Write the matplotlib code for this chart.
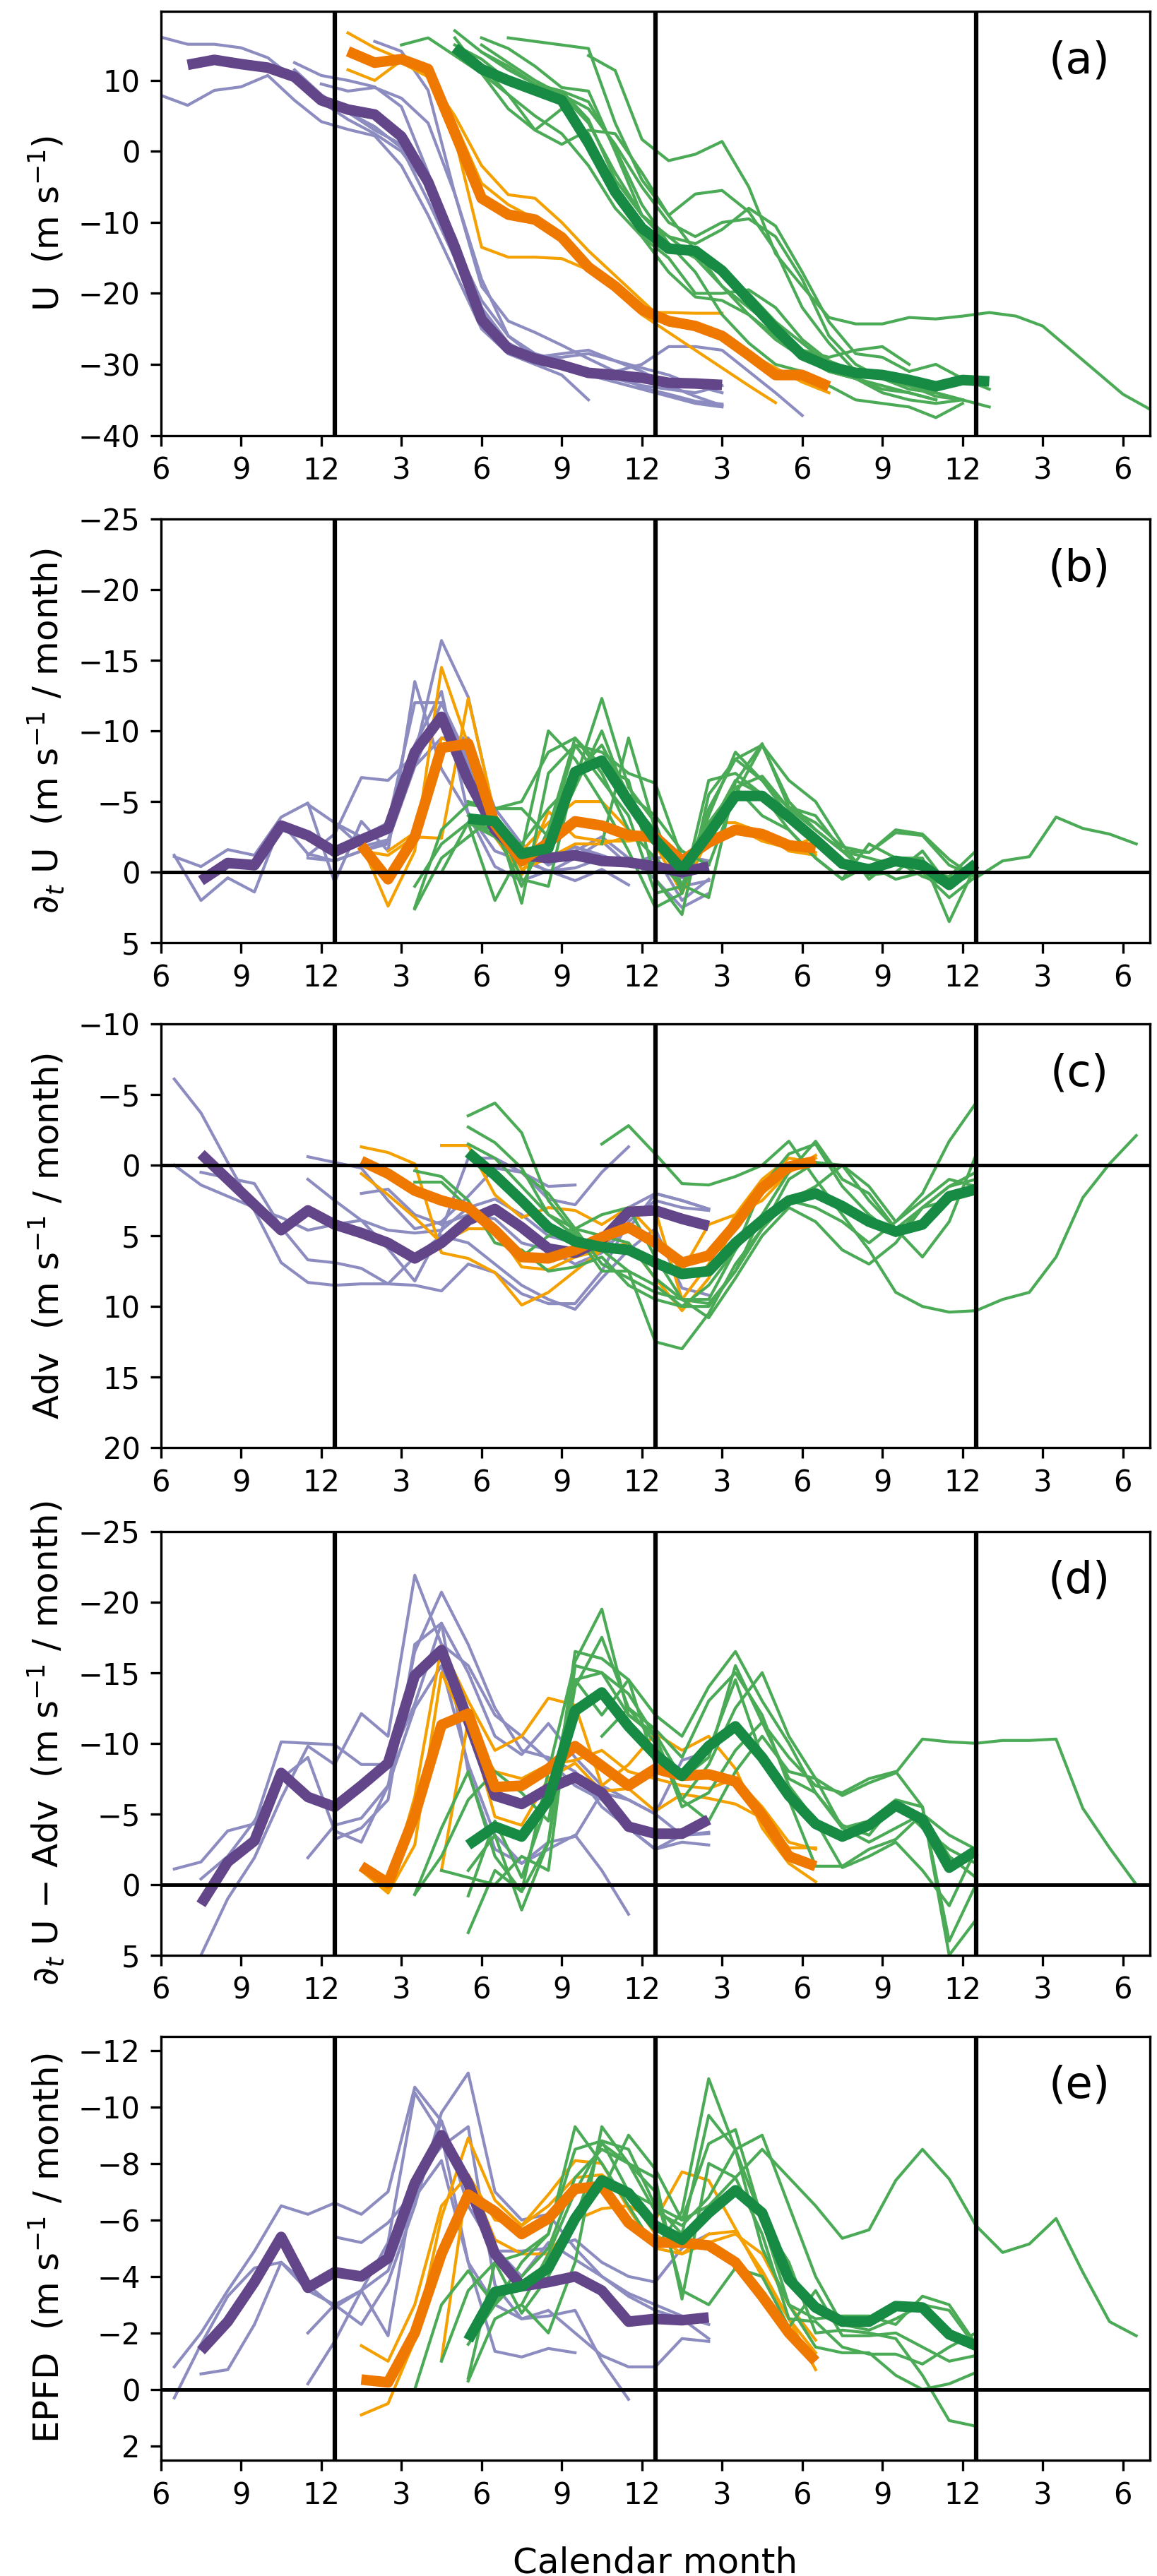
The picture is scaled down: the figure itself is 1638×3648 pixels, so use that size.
import numpy as np
import matplotlib
matplotlib.use("Agg")
import matplotlib.pyplot as plt

# month axis: 6 = June of first year, 18 = June of second year, ...
tick_pos = [6, 9, 12, 15, 18, 21, 24, 27, 30, 33, 36, 39, 42]
tick_lab = ["6", "9", "12", "3", "6", "9", "12", "3", "6", "9", "12", "3", "6"]
year_bounds = [12.5, 24.5, 36.5]

# ---------------- panel (a): U, monthly values ----------------
a_purple_start = 7
a_purple = [12.2, 12.9, 12.3, 11.8, 10.5, 7.2, 5.9, 5.2, 2.1, -4.3, -13.5, -23.7, -27.8,
            -29.2, -30.1, -31.2, -31.5, -31.9, -32.6, -32.7, -32.9]
a_orange_start = 13
a_orange = [14.1, 12.5, 13.0, 11.6, 2.6, -6.6, -8.9, -9.6, -12.1, -16.3, -19.0, -22.3,
            -23.9, -24.6, -26.0, -28.7, -31.5, -31.5, -33.1]
a_green_start = 17
a_green = [14.6, 11.6, 10.0, 8.6, 7.2, 1.2, -5.7, -10.8, -13.7, -14.0, -16.8, -20.9,
           -25.0, -28.7, -30.3, -31.2, -31.5, -32.2, -33.1, -32.2, -32.4]

a_purple_members = [
    (6, [16.1, 15.1, 15.1, 14.6, 13.2, 10.2, 7.5, 5.5, 3.5, 0.5, -7, -15, -24, -28.5, -30, -31.5, -35]),
    (6, [7.9, 6.5, 8.6, 9.1, 10.7, 7.2, 4.2, 3.1, 2.2, -2, -9, -17, -25, -28.5, -29.5, -30, -31.5,
         -32.5, -33.5, -34.5, -35.5, -36]),
    (11, [12.5, 10.7, 10, 9.1, 6.3, -3, -14, -22, -27, -29, -28.5, -28, -29.5, -30.5, -31.5, -33, -34]),
    (14, [15.5, 14.1, 8.6, -6, -19, -23.9, -25.5, -27.3, -29.2, -31, -33.3, -34.2, -35.2, -35.6]),
    (11, [11.5, 8, 5.5, 3, 1, -4, -13, -21, -26, -28.5, -29.5, -31, -32, -33, -33.5, -34, -33]),
    (12, [9.5, 8.5, 9, 7.5, 4, -6, -18, -26, -29, -30.5, -31.5, -31, -30, -27.5, -27.5, -28, -31, -34, -37.2]),
    (11, [10, 7, 4.5, 2.5, 0, -5, -12, -22, -28.5, -29, -29, -28.5, -29.5, -31, -33, -34.5, -35.8]),
]
a_orange_members = [
    (13, [16.7, 14.6, 13, 11.5, 4, -4.5, -7.5, -9.5, -12.5, -16, -19.5, -23, -25.5, -28, -30.5, -33, -35.4]),
    (13, [11.5, 10, 12.8, 11, 2, -13.5, -14.9, -14.9, -15.1, -16.7, -19, -22.7, -22.7, -22.8, -22.8]),
    (15, [12.5, 10.5, 5, -2, -6.1, -6.6, -10, -14, -17.5, -21, -24.5, -25, -26.5, -28.5, -30.5, -32.5, -34]),
]
a_green_members = [
    (15, [15, 16, 13.5, 11, 8, 3, 1, 3, 2.5, -3, -9, -14, -19, -23, -26, -29, -31, -32, -33.5, -34, -35]),
    (17, [17, 14, 11.5, 9.5, 8, 4, -3, -9, -13, -15, -17, -20, -24, -27, -30, -32, -34, -35, -35.5, -35, -36]),
    (17, [16, 11, 6, 3, 6, 2.5, -5, -12, -17, -20.5, -21, -23, -26.5, -29, -31, -32, -33, -34, -35]),
    (18, [16, 14.5, 12, 9, 8.5, 0, -9, -12, -13, -11, -8, -10.5, -17, -24, -28.5, -29, -31, -30, -32, -33.5]),
    (19, [16, 15.5, 15, 14.5, 4, -4, -9, -6, -5.5, -8.5, -14, -22, -27, -31, -32, -33, -34.5, -35]),
    (22, [13.5, 11.4, 1.7, -1.3, -0.4, 1.4, -5, -14.4, -19, -23.4, -24.3, -24.3, -23.4, -23.6, -23.2,
          -22.7, -23.2, -24.6, -27.8, -31, -34.2, -36.3]),
    (18, [12, 8, 5, 2.5, -2, -8, -12, -15, -20, -20, -19.5, -22, -26.5, -29.5, -31, -32, -33.5, -34, -35]),
    (18, [15, 12.5, 10, 8, 6, 1, -5, -10, -12, -10, -9.5, -12, -18, -26, -30, -32, -33, -34, -35]),
    (18, [14, 12, 9.5, 8.5, 7, 0.5, -7.5, -13, -17, -23, -27, -30, -31, -33, -35, -35.5, -36, -37.5, -35.5]),
    (17, [15, 13, 10, 9, 8.5, 4.5, -4, -9, -12, -15, -19, -22, -25, -28, -29, -28, -27.5, -30]),
]

# ---------------- panel (b): dU/dt, mid-month values ----------------
b_purple_start = 7.5
b_purple = [0.6, -0.65, -0.5, -3.3, -2.6, -1.45, -2.3, -3.1, -8.5, -11.0, -6.5, -3.0, -1.2,
            -1.0, -1.2, -0.8, -0.7, -0.4, 0.0, -0.4]
b_orange_start = 13.5
b_orange = [-1.9, 0.5, -2.5, -8.8, -9.1, -3.4, -0.8, -2.1, -3.6, -3.3, -2.6, -2.5, -0.8,
            -2.1, -3.0, -2.7, -1.9, -1.7]
b_green_start = 17.5
b_green = [-3.8, -3.6, -1.3, -1.7, -7.1, -7.9, -5.0, -2.3, -0.2, -2.7, -5.4, -5.4, -3.9,
           -2.3, -0.6, -0.2, -0.8, -0.5, 0.9, -0.6]

b_purple_members = [
    (6.5, [-1.2, 2.0, 0.4, 1.4, -3.5, -1.3, -0.8, -1.5, -2.2, -7.5, -12.0, -8.0, -3.5, -1.5, -1.0,
           -1.8, -1.2, -0.5, -1.2, 2.0, 0.5]),
    (6.5, [-1.1, -0.4, -1.6, -1.2, -3.9, -4.9, 0.7, -3.6, -1.5, -13.5, -7.3, -4.2, -1.5, -0.8, -0.1,
           -0.3, -1.0, -0.5, -1.0, 1.0, 0.6]),
    (11.5, [-1.2, -2.7, -6.7, -6.5, -8.3, -16.4, -12.4, -3.9, -1.1, 0.0, -1.0, -2.2, -0.5, -1.0, -1.2, -0.8]),
    (11.5, [-1.0, -0.8, -1.5, -2.0, -9.0, -12.8, -4.1, -0.4, 0.6, -0.1, 0.6, -0.2, 0.9]),
    (12.5, [-3.5, -1.8, -2.3, -7.5, -9.5, -9.5, -4.5, -2.0, -0.5, -1.5, -2.5, -1.0, 0.5, 2.5, 1.5]),
    (11.5, [-4.8, -3.5, -2.5, -3.5, -12.0, -12.0, -7.5, -3.0, -1.2, -0.7, -1.8, -1.0, -0.8, -0.3, 0.4, -0.5]),
]
b_orange_members = [
    (13.5, [-2.0, 2.4, -1.5, -14.5, -9.0, -2.5, 0.2, -4.3, -2.5, -2.2, -2.2, -2.5, 1.0, -3.5, -3.5,
            -2.8, -1.5, -1.2]),
    (13.5, [-1.5, -1.2, -2.5, -2.4, -12.3, -4.0, -1.5, -3.5, -5.0, -5.0, -3.0, -2.0, 1.5, -2.5, -3.2,
            -2.2, -1.7, -2.5]),
    (14.5, [-1.5, -2.8, -9.5, -8.8, -3.5, -0.2, -1.0, -2.0, -2.0, -2.5, -2.8, -0.5, -2.0, -3.2, -2.5,
            -2.0, -1.4]),
]
b_green_members = [
    (22.5, [-2.0, -9.5, -3.0, 0.9, 1.8, -6.4, -9.1, -4.6, -4.0, -1.5, -1.4, -3.0, -2.7, -0.9, 0.4,
            -0.8, -1.1, -3.9, -3.1, -2.7, -2.0]),
    (15.5, [2.5, -3.0, -4.8, -4.5, -5.0, -8.5, -9.5, -7.0, -3.0, -1.0, 1.0, -4.5, -8.0, -9.0, -5.0,
            -3.0, -1.5, -1.0, -0.5, -0.2, 0.5, -0.5]),
    (15.5, [1.0, -2.0, -3.5, 2.0, -1.5, -10.0, -8.0, -5.0, -1.5, 2.5, 1.5, -6.5, -7.0, -5.5, -4.0,
            -2.0, -0.5, 0.0, -0.8, 0.3, 1.0, 0.0]),
    (16.5, [0.0, -3.5, -3.0, 1.0, -3.0, -9.5, -7.5, -6.5, 0.5, 3.0, -5.5, -8.0, -6.5, -4.5, -3.0,
            -1.5, 0.2, 0.0, 0.0, 0.3, -1.5]),
    (17.5, [-3.5, -2.5, -2.0, -4.5, -6.5, -12.3, -6.0, -3.5, 1.5, -4.0, -8.5, -6.5, -4.0, -2.0, -0.5,
            0.0, 0.0, -1.5, 1.0, -0.5]),
    (17.5, [-5.0, -4.5, -4.5, -2.5, -9.0, -8.5, -7.0, -6.3, -1.0, -2.5, -6.0, -6.8, -4.5, -3.5, -1.8,
            -1.4, -2.8, -2.6, -0.5, 0.3]),
    (17.5, [-2.5, -4.0, 0.5, 1.0, -7.0, -9.0, -5.5, -4.0, -1.5, -0.5, -5.5, -9.0, -6.5, -5.0, -2.0,
            0.5, -1.0, -1.0, 3.5, -0.5]),
    (15.5, [2.6, -1.0, -2.5, -4.0, 2.2, -7.0, -9.0, -6.5, -4.0, 1.5, 1.0, -3.0, -6.5, -5.5, -3.0,
            -1.0, 0.5, -0.5, 0.5, 0.0, 1.8, 0.3]),
    (17.5, [-4.0, -2.5, -0.5, -2.0, -6.0, -10.0, -5.0, -3.0, 1.0, -3.5, -6.0, -4.0, -3.0, -1.0, 0.5,
            -2.0, -1.0, -0.5, 0.5, -0.5]),
]

# ---------------- panel (c): advection ----------------
c_purple_start = 7.5
c_purple = [-0.8, 1.0, 2.8, 4.6, 3.2, 4.2, 4.8, 5.5, 6.6, 5.5, 3.9, 3.1, 4.4, 5.9, 6.2, 5.3,
            3.3, 3.2, 3.8, 4.3]
c_orange_start = 13.5
c_orange = [-0.3, 0.6, 1.8, 2.5, 3.0, 4.6, 6.5, 6.6, 6.0, 5.1, 4.4, 5.5, 6.9, 6.4, 4.2, 1.6,
            0.1, -0.3]
c_green_start = 17.5
c_green = [-0.9, 0.7, 2.5, 4.4, 5.4, 5.8, 6.0, 6.9, 7.7, 7.5, 5.5, 3.9, 2.5, 2.0, 2.9, 4.0,
           4.7, 4.2, 2.2, 1.7]

c_purple_members = [
    (6.5, [-6.1, -3.7, -0.2, 3.2, 6.9, 8.3, 8.5, 8.4, 8.4, 8.5, 8.9, 7.0, 7.6, 9.1, 9.8, 9.8, 7.5,
           4.0, 2.5, 3.0, 3.2]),
    (6.5, [0.0, 1.4, 2.2, 3.0, 3.7, 4.6, 4.2, 3.9, 4.6, 4.8, 4.6, 3.0, 2.4, 3.5, 5.0, 5.5, 6.0, 4.5,
           2.0, 2.5, 3.1]),
    (7.5, [0.5, 0.9, 1.3, 4.4, 6.7, 6.9, 7.3, 8.4, 6.5, 5.0, 5.5, 7.0, 8.5, 9.5, 10.2, 8.0, 6.0, 4.5,
           8.7, 9.2]),
    (11.5, [-0.6, -0.2, 0.2, 2.5, 4.5, 4.0, 2.2, 0.2, 0.5, 1.5, 1.4]),
    (11.5, [1.0, 2.5, 3.9, 5.9, 8.2, 4.6, -0.5, -0.5, 0.5, 2.4, 2.8, 0.5, -1.3]),
    (13.5, [2.0, 1.7, 3.5, 4.2, 3.5, 3.8, 5.5, 6.0, 7.0, 6.2, 3.0, 2.0, 2.5, 3.1]),
]
c_orange_members = [
    (13.5, [-1.3, -0.9, -0.1, 6.2, 6.6, 7.6, 9.9, 9.0, 7.5, 6.0, 5.5, 8.0, 10.3, 8.0, 4.0, 2.0, 0.5, -0.7]),
    (13.5, [0.6, 2.1, 3.7, 5.5, 4.5, 4.5, 7.2, 7.4, 6.5, 6.0, 3.0, 3.2, 9.5, 7.0, 3.5, 1.0, -0.5, -0.2]),
    (16.5, [-1.4, -1.4, 2.1, 3.7, 3.0, 3.2, 4.2, 3.0, 5.0, 7.5, 4.2, 3.5, 2.5, 0.5, -0.5]),
]
c_green_members = [
    (22.5, [-1.5, -2.8, -0.8, 1.3, 1.4, 0.8, 0.0, -1.7, 1.0, 3.5, 6.0, 9.0, 10.0, 10.4, 10.3, 9.5,
            9.0, 6.5, 2.3, -0.1, -2.1]),
    (17.5, [-3.5, -4.4, -2.3, 2.5, 4.8, 7.5, 7.5, 8.5, 10.0, 10.0, 7.5, 3.5, 0.5, -1.7, 1.0, 2.0,
            4.5, 6.5, 4.0, -0.7]),
    (17.5, [-2.7, -1.6, 0.2, 3.5, 5.0, 6.0, 7.5, 12.5, 13.0, 10.5, 7.0, 4.5, 2.5, 1.5, 0.0, 1.5,
            4.0, 2.0, -1.7, -4.4]),
    (15.5, [1.2, 1.2, 3.0, 4.5, 6.5, 5.0, 4.5, 3.5, 3.0, 6.5, 9.5, 9.8, 7.5, 4.5, 1.0, -0.2, 0.0,
            2.5, 4.5, 3.0, 1.5, 0.5]),
    (15.5, [0.4, 0.8, 2.5, 5.5, 6.0, 7.5, 7.2, 6.5, 8.5, 9.5, 10.0, 8.5, 6.0, 3.5, 2.5, 3.0, 4.0,
            5.5, 4.0, 2.5, 1.0, 1.5]),
    (19.5, [0.5, 2.0, 4.5, 7.0, 8.0, 9.0, 9.5, 10.8, 8.0, 5.0, 3.0, 4.0, 6.0, 7.0, 5.5, 3.0, 1.5, 1.0]),
    (17.5, [-1.5, -0.5, 1.5, 3.5, 4.5, 5.0, 5.5, 8.0, 9.5, 9.5, 6.0, 1.5, -0.8, -1.5, 1.5, 3.5, 5.0,
            3.0, 2.5, 2.0]),
]

# ---------------- panel (d): dU/dt - Adv ----------------
d_purple_start = 7.5
d_purple = [1.4, -1.6, -3.1, -7.9, -6.2, -5.5, -7.0, -8.6, -14.8, -16.6, -11.6, -6.3, -5.7,
            -6.8, -7.6, -6.5, -4.1, -3.6, -3.6, -4.6]
d_orange_start = 13.5
d_orange = [-1.3, -0.1, -4.9, -11.3, -12.1, -6.9, -7.0, -8.2, -9.8, -8.4, -7.0, -8.2, -7.7,
            -7.8, -7.3, -4.9, -2.0, -1.3]
d_green_start = 17.5
d_green = [-2.8, -4.1, -3.4, -6.0, -12.3, -13.6, -11.2, -9.2, -7.7, -9.8, -11.2, -9.0, -6.3,
           -4.3, -3.4, -4.2, -5.6, -4.6, -1.2, -2.4]

d_purple_members = [
    (6.5, [-1.1, -1.6, -3.8, -4.3, -10.1, -10.0, -9.9, -8.5, -8.5, -12.8, -18.5, -15.0, -10.5, -9.2,
           -11.4, -9.0, -7.0, -6.0, -5.0, -3.5, -3.6]),
    (7.5, [5.0, 1.0, -1.9, -6.1, -9.8, -8.5, -12.1, -10.5, -21.9, -17.0, -15.5, -12.0, -10.5, -8.8,
           -7.0, -6.0, -4.0, -2.5, -3.0, -2.8]),
    (7.5, [-0.4, -2.0, -4.5, -7.5, -9.0, -3.8, -3.0, -7.0, -16.5, -20.7, -17.0, -12.5, -9.5, -9.0,
           -8.0, -5.5, -4.0, -2.5, -3.5, -3.7]),
    (11.5, [-1.9, -4.2, -4.7, -7.0, -12.5, -15.5, -8.5, -3.5, -1.5, -2.5, -3.5, -1.0, 2.1]),
    (12.5, [-3.2, -4.0, -6.0, -17.0, -18.5, -8.0, -2.5, -1.5, -3.0, -3.4, -6.5, -6.0, -5.0, -8.8, -9.4]),
]
d_orange_members = [
    (13.5, [-1.0, 0.6, -2.8, -15.0, -11.0, -8.0, -7.5, -8.5, -8.8, -9.5, -8.0, -7.5, -7.0, -6.8,
            -7.5, -5.5, -3.0, -2.5]),
    (13.5, [-1.0, 0.4, -6.2, -16.9, -13.0, -9.5, -10.5, -13.2, -12.7, -7.0, -8.5, -10.7, -9.5, -10.5,
            -8.2, -4.0, -1.5, -0.2]),
    (16.5, [-1.0, -11.6, -4.8, -4.2, -7.5, -8.6, -6.6, -6.8, -5.2, -6.4, -6.1, -5.7, -4.7, -2.6, -2.6]),
]
d_green_members = [
    (22.5, [-10.5, -12.5, -10.0, -6.0, -4.5, -8.0, -10.5, -8.0, -7.5, -6.3, -7.2, -7.9, -10.3, -10.1,
            -10.0, -10.2, -10.2, -10.3, -5.4, -2.6, 0.0]),
    (15.5, [0.7, -4.0, -8.0, -2.0, 0.5, -8.0, -15.8, -19.5, -12.0, -10.5, -6.0, -8.5, -12.5, -15.0,
            -10.5, -7.5, -4.0, -4.5, -6.0, -5.5, 5.0, 2.5]),
    (17.5, [3.4, -1.0, 0.5, -3.0, -16.5, -16.0, -14.5, -12.0, -10.5, -14.0, -16.5, -13.0, -10.0, -6.5,
            -4.0, -3.0, -4.0, -5.0, -3.5, -2.5]),
    (16.5, [-1.0, -0.5, 0.0, -2.0, -1.0, -15.5, -15.0, -12.0, -10.7, -7.5, -9.5, -14.5, -9.0, -6.0,
            -1.3, -1.3, -2.5, -3.2, -5.0, -2.0, -0.5]),
    (17.5, [0.8, -4.5, -0.5, -6.0, -14.5, -12.0, -14.5, -8.5, -7.5, -9.0, -15.5, -11.5, -9.0, -7.0,
            -6.5, -7.5, -8.0, -5.5, 4.0, 0.0]),
    (17.5, [-1.0, -3.5, 1.8, -3.0, -14.0, -17.5, -12.5, -11.0, -9.0, -13.0, -15.0, -12.0, -7.0, -4.5,
            -1.2, -2.0, -3.0, -1.0, 1.5, -2.5]),
    (15.5, [0.7, -2.0, -6.0, -8.0, -6.5, -4.5, -14.5, -15.0, -13.5, -10.5, -5.5, -6.5, -9.5, -11.5,
            -7.5, -6.5, -4.2, -3.5, -5.8, -4.0, -2.5, -1.5]),
]

# ---------------- panel (e): EP flux divergence ----------------
e_purple_start = 7.5
e_purple = [-1.37, -2.4, -3.8, -5.4, -3.6, -4.15, -4.0, -4.65, -7.3, -9.0, -7.3, -4.8, -3.65,
            -3.8, -4.0, -3.5, -2.4, -2.5, -2.45, -2.55]
e_orange_start = 13.5
e_orange = [-0.35, -0.25, -2.0, -4.8, -6.9, -6.3, -5.5, -6.05, -7.1, -7.2, -5.9, -5.2, -5.2,
            -5.1, -4.5, -3.3, -2.0, -1.0]
e_green_start = 17.5
e_green = [-1.75, -3.45, -3.65, -4.3, -6.05, -7.4, -6.95, -5.8, -5.3, -6.25, -7.05, -6.25,
           -3.9, -2.9, -2.4, -2.4, -2.95, -2.9, -1.95, -1.55]

e_purple_members = [
    (6.5, [-0.8, -2.0, -3.5, -4.9, -6.5, -6.2, -6.6, -6.2, -7.0, -10.7, -9.5, -7.0, -5.0, -4.0,
           -5.2, -4.6, -4.0, -3.4, -3.0, -2.6, -2.3]),
    (6.5, [0.3, -1.6, -3.3, -4.3, -4.5, -3.7, -2.9, -3.5, -4.2, -6.8, -8.1, -4.5, -3.0, -2.5, -2.8,
           -2.0, -1.2, -0.8, -0.8, -1.8, -1.7]),
    (7.5, [-0.55, -0.7, -2.3, -4.5, -3.5, -3.0, -2.3, -3.8, -6.5, -9.8, -11.2, -7.0, -6.0, -6.2, -5.0,
           -4.0, -3.3, -2.8, -2.5, -1.8]),
    (11.5, [-0.2, -1.7, -3.5, -5.2, -10.5, -9.0, -4.5, -1.35, -1.15, -1.45, -1.3]),
    (11.5, [-2.0, -3.0, -3.5, -1.9, -7.4, -8.6, -9.3, -3.7, -2.5, -2.6, -2.8, -1.0, 0.35]),
    (12.5, [-5.4, -5.2, -5.9, -7.0, -9.5, -6.5, -4.9, -4.9, -5.0, -5.3, -4.5, -4.0, -3.8, -5.0, -5.5]),
]
e_orange_members = [
    (13.5, [0.9, 0.5, -1.75, -6.1, -8.9, -6.7, -5.8, -6.9, -8.1, -8.0, -6.4, -5.0, -4.8, -5.2, -5.5,
            -4.8, -3.0, -1.75]),
    (13.5, [-1.55, -1.0, -3.0, -6.5, -7.6, -5.3, -4.8, -4.8, -6.0, -6.4, -6.5, -6.0, -7.7, -7.4, -5.7,
            -4.0, -2.5, -1.3]),
    (16.5, [-1.05, -7.6, -6.0, -5.8, -6.5, -7.5, -7.6, -6.9, -5.5, -4.8, -5.5, -5.6, -4.2, -2.5, -0.7]),
]
e_green_members = [
    (22.5, [-7.0, -9.0, -7.8, -6.0, -6.5, -7.5, -8.5, -7.5, -6.5, -5.35, -5.65, -7.4, -8.5, -7.45,
            -5.8, -4.85, -5.15, -6.05, -4.15, -2.4, -1.9]),
    (15.5, [0.0, -3.0, -4.2, -3.0, -4.5, -5.5, -9.3, -8.0, -6.5, -5.0, -6.3, -11.0, -8.5, -6.0, -4.5,
            -2.0, -2.1, -2.0, -1.8, -0.5, 1.1, 1.3]),
    (16.5, [-1.0, -3.5, -4.5, -4.8, -5.5, -8.5, -8.8, -7.0, -6.5, -5.5, -9.7, -8.5, -5.0, -3.0, -1.5,
            -1.3, -1.3, -0.5, 0.0, -0.2, -0.6]),
    (17.5, [-0.3, -2.5, -3.0, -2.0, -4.5, -9.3, -8.0, -7.0, -3.5, -3.0, -4.3, -4.0, -2.2, -3.5, -1.9,
            -1.9, -2.0, -1.5, -1.0, -1.2]),
    (17.5, [-0.4, -4.5, -2.7, -4.0, -6.0, -8.8, -8.5, -6.5, -6.0, -8.7, -9.2, -6.0, -3.0, -2.5, -2.6,
            -2.6, -2.3, -3.3, -3.0, -1.6]),
    (17.5, [-1.6, -3.0, -4.0, -5.0, -7.5, -8.5, -8.0, -7.5, -3.2, -8.0, -7.5, -5.5, -2.5, -2.4, -1.5,
            -1.25, -1.25, -0.9, -1.5, -2.0]),
    (19.5, [-3.0, -4.8, -7.0, -8.7, -8.0, -6.3, -5.8, -6.8, -8.5, -9.0, -6.5, -4.0, -2.3, -2.1, -2.5,
            -3.0, -2.8, -1.5]),
]

# colours
col_purple, col_purple_thin = "#63468a", "#8d8cc0"
col_orange, col_orange_thin = "#ef7800", "#f4a000"
col_green, col_green_thin = "#178a43", "#4aaa55"

panels = [
    dict(tag="(a)", ylabel="U  (m s$^{-1}$)", ylim=(-40, 19.7), yticks=[-40, -30, -20, -10, 0, 10],
         thick=[(a_purple_start, a_purple), (a_orange_start, a_orange), (a_green_start, a_green)],
         thin=[a_purple_members, a_orange_members, a_green_members], zero=False),
    dict(tag="(b)", ylabel="$\\partial_t$ U  (m s$^{-1}$ / month)", ylim=(5, -25),
         yticks=[5, 0, -5, -10, -15, -20, -25],
         thick=[(b_purple_start, b_purple), (b_orange_start, b_orange), (b_green_start, b_green)],
         thin=[b_purple_members, b_orange_members, b_green_members], zero=True),
    dict(tag="(c)", ylabel="Adv  (m s$^{-1}$ / month)", ylim=(20, -10),
         yticks=[20, 15, 10, 5, 0, -5, -10],
         thick=[(c_purple_start, c_purple), (c_orange_start, c_orange), (c_green_start, c_green)],
         thin=[c_purple_members, c_orange_members, c_green_members], zero=True),
    dict(tag="(d)", ylabel="$\\partial_t$ U $-$ Adv  (m s$^{-1}$ / month)", ylim=(5, -25),
         yticks=[5, 0, -5, -10, -15, -20, -25],
         thick=[(d_purple_start, d_purple), (d_orange_start, d_orange), (d_green_start, d_green)],
         thin=[d_purple_members, d_orange_members, d_green_members], zero=True),
    dict(tag="(e)", ylabel="EPFD  (m s$^{-1}$ / month)", ylim=(2.5, -12.5),
         yticks=[2, 0, -2, -4, -6, -8, -10, -12],
         thick=[(e_purple_start, e_purple), (e_orange_start, e_orange), (e_green_start, e_green)],
         thin=[e_purple_members, e_orange_members, e_green_members], zero=True),
]

fig = plt.figure(figsize=(1639 / 300, 3648 / 300), dpi=300)
bottoms = [0.831, 0.634, 0.438, 0.241, 0.045]
thin_cols = [col_purple_thin, col_orange_thin, col_green_thin]
thick_cols = [col_purple, col_orange, col_green]

for p, bot in zip(panels, bottoms):
    ax = fig.add_axes([0.139, bot, 0.854, 0.1645])
    for members, c in zip(p["thin"], thin_cols):
        for start, vals in members:
            ax.plot(start + np.arange(len(vals)), vals, color=c, lw=1.0)
    for (start, vals), c in zip(p["thick"], thick_cols):
        ax.plot(start + np.arange(len(vals)), vals, color=c, lw=3.6, solid_capstyle="butt")
    for xb in year_bounds:
        ax.axvline(xb, color="k", lw=1.5)
    if p["zero"]:
        ax.axhline(0, color="k", lw=1.2)
    ax.set_xlim(6, 43)
    ax.set_ylim(*p["ylim"])
    ax.set_yticks(p["yticks"])
    ax.set_xticks(tick_pos)
    ax.set_xticklabels(tick_lab)
    ax.set_ylabel(p["ylabel"], fontsize=12)
    ax.text(0.929, 0.883, p["tag"], transform=ax.transAxes, fontsize=15,
            ha="center", va="center")

ax.set_xlabel("Calendar month", fontsize=12, labelpad=12)
fig.savefig("out.png", dpi=300)
